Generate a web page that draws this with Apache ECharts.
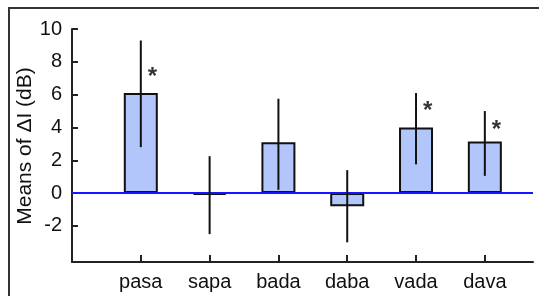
<!DOCTYPE html>
<html>
<head>
<meta charset="utf-8">
<script src="https://cdn.jsdelivr.net/npm/echarts@6/dist/echarts.min.js"></script>
<style>
html, body { margin: 0; padding: 0; background: #fff; }
#chart { width: 539px; height: 296px; }
</style>
</head>
<body>
<div id="chart"></div>
<script>
// conditions along x (placed at 1..6)
var categories = ['pasa', 'sapa', 'bada', 'daba', 'vada', 'dava'];
var means = [6.1, -0.1, 3.1, -0.8, 4.0, 3.15];
var errLow = [2.8, -2.5, 0.2, -3.0, 1.75, 1.05];
var errHigh = [9.3, 2.25, 5.75, 1.4, 6.1, 5.0];
// significance stars: [category index, y value]
var stars = [[0, 7.05], [4, 4.95], [5, 3.8]];
var yTicks = [-2, 0, 2, 4, 6, 8, 10];
var yTitle = 'Means of \u0394I (dB)';

var dom = document.getElementById('chart');
var myChart = echarts.init(dom);

var barData = means.map(function (v, i) { return [i + 1, v]; });
var errData = categories.map(function (c, i) { return [i + 1, errLow[i], errHigh[i]]; });
var starData = stars.map(function (s) { return [s[0] + 1.17, s[1]]; });

var font = 'Liberation Sans, Arial, sans-serif';

var option = {
    animation: false,
    graphic: [{
        type: 'rect',
        shape: { x: 9, y: 8, width: 560, height: 320 },
        style: { fill: 'none', stroke: '#333', lineWidth: 2 },
        silent: true
    }, {
        // y axis title, rotated
        type: 'text',
        x: 25,
        y: 146,
        rotation: Math.PI / 2,
        silent: true,
        style: {
            text: yTitle,
            fill: '#111',
            font: '21px ' + font,
            align: 'center',
            verticalAlign: 'middle'
        }
    }],
    grid: { left: 72, right: 6, top: 29, bottom: 34 },
    xAxis: {
        type: 'value',
        min: 0,
        max: 6.7,
        interval: 1,
        splitLine: { show: false },
        axisLine: { onZero: false, lineStyle: { color: '#222', width: 2 } },
        axisTick: { show: true, inside: true, length: 7, lineStyle: { color: '#222', width: 2 },
            customValues: [1, 2, 3, 4, 5, 6] },
        axisLabel: {
            color: '#111', fontFamily: font, fontSize: 20, margin: 10,
            customValues: [1, 2, 3, 4, 5, 6],
            formatter: function (v) { return categories[Math.round(v) - 1] || ''; }
        }
    },
    yAxis: {
        type: 'value',
        min: -4.2,
        max: 10,
        splitLine: { show: false },
        axisLine: { show: true, lineStyle: { color: '#222', width: 2 } },
        axisTick: { show: true, inside: true, length: 6, lineStyle: { color: '#222', width: 2 },
            customValues: yTicks },
        axisLabel: { color: '#111', fontFamily: font, fontSize: 20, margin: 10, customValues: yTicks }
    },
    series: [
        {
            type: 'bar',
            data: barData,
            barWidth: 34,
            itemStyle: { color: '#b3c6fc', borderColor: '#111', borderWidth: 2 },
            markLine: {
                silent: true,
                symbol: 'none',
                label: { show: false },
                lineStyle: { color: '#1515ff', width: 2, type: 'solid' },
                data: [{ yAxis: 0 }]
            }
        },
        {
            type: 'custom',
            data: errData,
            z: 5,
            renderItem: function (params, api) {
                var lo = api.coord([api.value(0), api.value(1)]);
                var hi = api.coord([api.value(0), api.value(2)]);
                return {
                    type: 'line',
                    shape: { x1: lo[0], y1: lo[1], x2: hi[0], y2: hi[1] },
                    style: { stroke: '#111', lineWidth: 2 }
                };
            }
        },
        {
            type: 'scatter',
            data: starData,
            symbolSize: 0,
            label: {
                show: true,
                position: 'inside',
                formatter: '*',
                color: '#000',
                fontFamily: font,
                fontSize: 24,
                fontWeight: 'bold'
            }
        }
    ]
};
if (option && typeof option === 'object') {
    myChart.setOption(option, true);
}
</script>
</body>
</html>
